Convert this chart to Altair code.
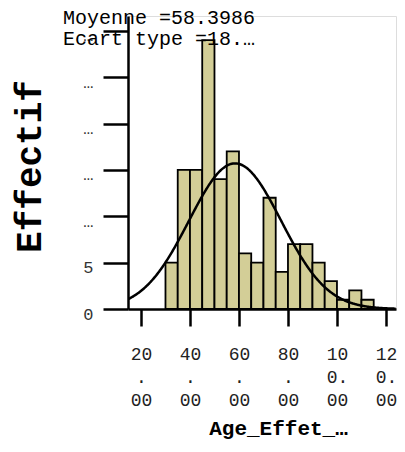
import altair as alt
import pandas as pd

# Histogram bins (Age_Effet_…) and counts
bin_start = [30, 35, 40, 45, 50, 55, 60, 65, 70, 75, 80, 85, 90, 95, 100, 105, 110]
bin_end = [35, 40, 45, 50, 55, 60, 65, 70, 75, 80, 85, 90, 95, 100, 105, 110, 115]
counts = [5, 15, 15, 29, 14, 17, 6, 5, 12, 4, 7, 7, 5, 3, 1, 2, 1]

x_ticks = [20, 40, 60, 80, 100, 120]
y_ticks = [0, 5, 10, 15, 20, 25, 30]

mean_value = 58.3986
sd_value = 18.8
bin_width = 5
n_total = sum(counts)

stat_lines = ["Moyenne =58.3986", "Ecart type =18.…"]

x_domain = [14.7, 124.1]
y_domain = [0, 31.6]

FONT = "Liberation Mono"

df = pd.DataFrame({"start": bin_start, "end": bin_end, "count": counts})

x_scale = alt.Scale(domain=x_domain, nice=False, zero=False)
y_scale = alt.Scale(domain=y_domain, nice=False, zero=True)

x_axis = alt.Axis(
    values=x_ticks,
    labelExpr="datum.value >= 100 ? [substring(toString(datum.value),0,2), substring(toString(datum.value),2) + '.', '00'] : [toString(datum.value), '.', '00']",
    grid=False,
    domainColor="black", domainWidth=2.5,
    tickColor="black", tickWidth=2.5, tickSize=17,
    labelFont=FONT, labelFontSize=18, labelColor="#222",
    labelLineHeight=23, labelBaseline="top", labelPadding=19,
    labelAlign="center", labelFlush=False, labelOverlap=False,
    title="Age_Effet_…", titleFont=FONT, titleFontSize=21,
    titleFontWeight="bold", titleColor="black",
    titleX=150, titleY=125, titleAlign="center", titleBaseline="alphabetic",
)

y_axis = alt.Axis(
    values=y_ticks,
    labelExpr="datum.value < 10 ? datum.label : '…'",
    grid=False,
    domainColor="black", domainWidth=2.5,
    tickColor="black", tickWidth=2.5, tickSize=25,
    labelFont=FONT, labelFontSize=17, labelColor="#333",
    labelBaseline="middle", labelOffset=5, labelPadding=10,
    labelFlush=False, labelOverlap=False,
    title="Effectif", titleFont=FONT, titleFontSize=36,
    titleFontWeight="bold", titleColor="black",
    titleAngle=270, titleX=-88, titleY=150, titleAlign="center",
    titleBaseline="alphabetic",
)

bars = alt.Chart(df).mark_bar(
    fill="#d3ce97", stroke="black", strokeWidth=1.8
).encode(
    x=alt.X("start:Q", scale=x_scale, axis=x_axis),
    x2="end:Q",
    y=alt.Y("count:Q", scale=y_scale, axis=y_axis),
    y2=alt.datum(0),
)

peak = n_total * bin_width
curve = alt.Chart(alt.sequence(x_domain[0], x_domain[1], 0.25, as_="x")).transform_calculate(
    y=f"{peak}/({sd_value}*sqrt(2*PI))*exp(-0.5*pow((datum.x-{mean_value})/{sd_value},2))"
).mark_line(color="black", strokeWidth=2.5, clip=True).encode(
    x=alt.X("x:Q", scale=x_scale),
    y=alt.Y("y:Q", scale=y_scale),
)

text1 = alt.Chart(pd.DataFrame({"t": [stat_lines[0]]})).mark_text(
    align="left", baseline="middle", font=FONT, fontSize=20, color="black"
).encode(x=alt.value(-65), y=alt.value(2), text="t:N")

text2 = alt.Chart(pd.DataFrame({"t": [stat_lines[1]]})).mark_text(
    align="left", baseline="middle", font=FONT, fontSize=20, color="black"
).encode(x=alt.value(-65), y=alt.value(23), text="t:N")

chart = alt.layer(bars, curve, text1, text2).properties(
    width=268, height=293,
    autosize=alt.AutoSizeParams(type="none"),
    padding={"left": 120, "top": 8, "right": 1, "bottom": 132},
).configure_view(
    fill="#f0f0f0", stroke="black", strokeWidth=1.5
).configure(background="white")

chart.save("out.html", embed_options={"renderer": "svg", "actions": False})
